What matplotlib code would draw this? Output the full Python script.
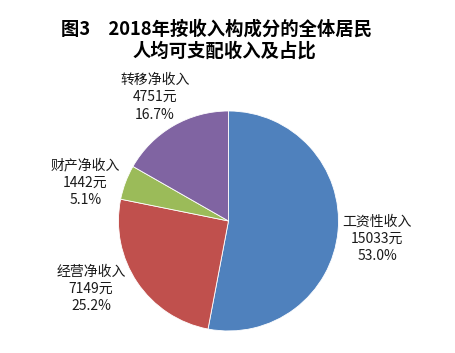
import matplotlib
matplotlib.use("Agg")
import matplotlib.pyplot as plt

plt.rcParams['font.family'] = ['Noto Sans CJK SC', 'DejaVu Sans']

categories = ["工资性收入", "经营净收入", "财产净收入", "转移净收入"]
values = [15033, 7149, 1442, 4751]
percents = ["53.0%", "25.2%", "5.1%", "16.7%"]
colors = ["#4F81BD", "#C0504D", "#9BBB59", "#8064A2"]
label_pos = [(1.35, -0.165), (-1.25, -0.62), (-1.30, 0.345), (-0.67, 1.125)]

fig = plt.figure(figsize=(4.56, 3.53), dpi=100)
ax = fig.add_axes([0.501 - 0.2412, 0.374 - 0.3116, 0.4825, 0.6232])
ax.pie(values, colors=colors, startangle=90, counterclock=False,
       wedgeprops=dict(edgecolor="white", linewidth=0.6))
ax.set_xlim(-1, 1)
ax.set_ylim(-1, 1)
ax.set_aspect('auto')

for cat, v, p, (x, y) in zip(categories, values, percents, label_pos):
    ax.text(x, y, f"{cat}\n{v}元\n{p}", ha="center", va="center",
            fontsize=10, linespacing=1.3, color="#1a1a1a", clip_on=False)

fig.text(0.474, 0.918, "图3　2018年按收入构成分的全体居民", ha="center", va="center",
         fontsize=13.2, fontweight="bold")
fig.text(0.493, 0.855, "人均可支配收入及占比", ha="center", va="center",
         fontsize=13.2, fontweight="bold")

fig.savefig("out.png", dpi=100)
